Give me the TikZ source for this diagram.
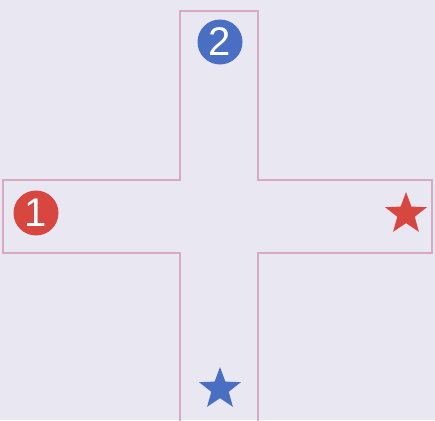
\documentclass[tikz,border=0pt]{standalone}
\usepackage{fontspec}
\setmainfont{Liberation Sans}
\usetikzlibrary{shapes.geometric}
\definecolor{bg}{HTML}{E9E8F2}
\definecolor{wall}{HTML}{D9A9C2}
\definecolor{redc}{HTML}{D7473F}
\definecolor{bluec}{HTML}{4A6FC2}
\tikzset{
  wallline/.style={draw=wall, line width=2pt, line join=miter},
  disc/.style={circle, minimum size=45pt, inner sep=0pt, text=white, font=\fontsize{40}{40}\selectfont},
  starmark/.style={star, star points=5, star point ratio=2.4, minimum size=44pt, inner sep=0pt}
}
\begin{document}
\begin{tikzpicture}[x=1pt,y=-1pt]
\fill[bg] (0,0) rectangle (435,420);
\useasboundingbox (0,0) rectangle (435,420);
\draw[wallline] (180,421) -- (180,253) -- (3,253) -- (3,180) -- (180,180) -- (180,11) -- (258,11) -- (258,180) -- (432,180) -- (432,253) -- (258,253) -- (258,421);
\node[disc, fill=redc] (one) at (36,213) {1};
\node[disc, fill=bluec] (two) at (220,42) {2};
\node[starmark, fill=redc] (rstar) at (406,214) {};
\node[starmark, fill=bluec] (bstar) at (220,389) {};
\end{tikzpicture}
\end{document}
